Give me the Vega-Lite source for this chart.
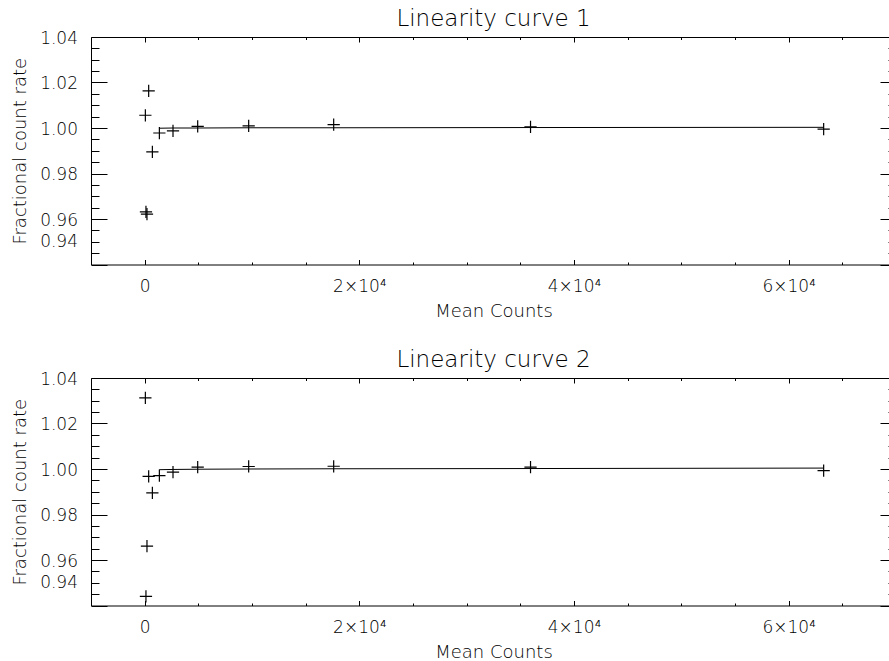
{
  "$schema": "https://vega.github.io/schema/vega-lite/v6.json",
  "padding": {"left": 11, "top": 7, "right": 0, "bottom": 0},
  "background": "white",
  "spacing": 27,
  "config": {
    "view": {"stroke": "black", "strokeWidth": 1},
    "font": "DejaVu Sans",
    "axis": {
      "labelFont": "DejaVu Sans", "labelFontSize": 17, "labelColor": "black", "labelFontWeight": 200,
      "titleFont": "DejaVu Sans", "titleFontSize": 18, "titleColor": "black", "titleFontWeight": 200,
      "tickColor": "black", "tickWidth": 1, "domain": false, "grid": false,
      "labelOverlap": false, "labelFlush": false, "labelBound": false
    },
    "title": {"font": "DejaVu Sans", "fontSize": 23, "fontWeight": 200, "color": "black", "baseline": "alphabetic", "offset": -2}
  },
  "datasets": {
    "pts1": [
      {"counts": 65, "rate": 1.0056}, {"counts": 373, "rate": 1.0163}, {"counts": 718, "rate": 0.9895},
      {"counts": 120, "rate": 0.9631}, {"counts": 215, "rate": 0.9621}, {"counts": 1370, "rate": 0.9978},
      {"counts": 2640, "rate": 0.9987}, {"counts": 4940, "rate": 1.0007}, {"counts": 9690, "rate": 1.0009},
      {"counts": 17610, "rate": 1.0015}, {"counts": 35950, "rate": 1.0005}, {"counts": 63260, "rate": 0.9995}
    ],
    "fit1": [
      {"counts": 1370, "rate": 0.9999}, {"counts": 2640, "rate": 1.0}, {"counts": 4940, "rate": 1.0},
      {"counts": 9690, "rate": 1.0001}, {"counts": 17610, "rate": 1.0001}, {"counts": 35950, "rate": 1.0002},
      {"counts": 63260, "rate": 1.0003}
    ],
    "pts2": [
      {"counts": 65, "rate": 1.0313}, {"counts": 373, "rate": 0.9968}, {"counts": 718, "rate": 0.9895},
      {"counts": 215, "rate": 0.9661}, {"counts": 120, "rate": 0.944}, {"counts": 1370, "rate": 0.9971},
      {"counts": 2640, "rate": 0.9986}, {"counts": 4940, "rate": 1.0008}, {"counts": 9690, "rate": 1.0011},
      {"counts": 17610, "rate": 1.0012}, {"counts": 35950, "rate": 1.0008}, {"counts": 63260, "rate": 0.9993}
    ],
    "fit2": [
      {"counts": 1370, "rate": 0.9997}, {"counts": 2640, "rate": 0.9998}, {"counts": 4940, "rate": 0.9999},
      {"counts": 9690, "rate": 1.0}, {"counts": 17610, "rate": 1.0001}, {"counts": 35950, "rate": 1.0002},
      {"counts": 63260, "rate": 1.0004}
    ]
  },
  "vconcat": [
    {
      "title": {"text": "Linearity curve 1"},
      "width": 805, "height": 227.5,
      "resolve": {"axis": {"x": "independent", "y": "independent"}},
      "layer": [
        {
          "data": {"name": "pts1"},
          "mark": {"type": "point", "shape": "M-1,0L1,0M0,-1L0,1", "size": 150, "filled": false, "stroke": "black", "strokeWidth": 1.2, "opacity": 1},
          "encoding": {
            "x": {"field": "counts", "type": "quantitative", "scale": {"domain": [-5000, 70000], "nice": false, "zero": false},
              "axis": {"orient": "bottom", "title": "Mean Counts", "titlePadding": 5.5,
                "values": [0, 5000, 10000, 15000, 20000, 25000, 30000, 35000, 40000, 45000, 50000, 55000, 60000, 65000],
                "labelExpr": "datum.value === 0 ? '0' : (datum.value % 20000 === 0 ? (datum.value / 10000) + '×10⁴' : '')",
                "tickSize": {"condition": {"test": "datum.value % 20000 === 0", "value": -5}, "value": -2.5},
                "labelPadding": 18.5}},
            "y": {"field": "rate", "type": "quantitative", "scale": {"domain": [0.94, 1.04], "nice": false, "zero": false},
              "axis": {"orient": "left", "title": "Fractional count rate", "titlePadding": 10,
                "values": [0.94, 0.945, 0.95, 0.955, 0.96, 0.965, 0.97, 0.975, 0.98, 0.985, 0.99, 0.995, 1.0, 1.005, 1.01, 1.015, 1.02, 1.025, 1.03, 1.035, 1.04],
                "labelExpr": "round(datum.value * 1000) % 20 === 0 ? format(datum.value, '.2f') : ''",
                "tickSize": {"condition": {"test": "round(datum.value * 1000) % 20 === 0", "value": -16}, "value": -8},
                "labelOffset": {"condition": {"test": "datum.value < 0.945", "value": -23}, "value": 1},
                "labelPadding": 29.5}}
          }
        },
        {
          "data": {"name": "fit1"},
          "mark": {"type": "line", "color": "black", "strokeWidth": 1},
          "encoding": {
            "x": {"field": "counts", "type": "quantitative", "scale": {"domain": [-5000, 70000], "nice": false, "zero": false},
              "axis": {"orient": "top", "title": null, "labels": false,
                "values": [0, 5000, 10000, 15000, 20000, 25000, 30000, 35000, 40000, 45000, 50000, 55000, 60000, 65000],
                "tickSize": {"condition": {"test": "datum.value % 20000 === 0", "value": -5}, "value": -2.5}}},
            "y": {"field": "rate", "type": "quantitative", "scale": {"domain": [0.94, 1.04], "nice": false, "zero": false},
              "axis": {"orient": "right", "title": null, "labels": false,
                "values": [0.94, 0.945, 0.95, 0.955, 0.96, 0.965, 0.97, 0.975, 0.98, 0.985, 0.99, 0.995, 1.0, 1.005, 1.01, 1.015, 1.02, 1.025, 1.03, 1.035, 1.04],
                "tickSize": {"condition": {"test": "round(datum.value * 1000) % 20 === 0", "value": -16}, "value": -8}}}
          }
        }
      ]
    },
    {
      "title": {"text": "Linearity curve 2"},
      "width": 805, "height": 227.5,
      "resolve": {"axis": {"x": "independent", "y": "independent"}},
      "layer": [
        {
          "data": {"name": "pts2"},
          "mark": {"type": "point", "shape": "M-1,0L1,0M0,-1L0,1", "size": 150, "filled": false, "stroke": "black", "strokeWidth": 1.2, "opacity": 1},
          "encoding": {
            "x": {"field": "counts", "type": "quantitative", "scale": {"domain": [-5000, 70000], "nice": false, "zero": false},
              "axis": {"orient": "bottom", "title": "Mean Counts", "titlePadding": 5.5,
                "values": [0, 5000, 10000, 15000, 20000, 25000, 30000, 35000, 40000, 45000, 50000, 55000, 60000, 65000],
                "labelExpr": "datum.value === 0 ? '0' : (datum.value % 20000 === 0 ? (datum.value / 10000) + '×10⁴' : '')",
                "tickSize": {"condition": {"test": "datum.value % 20000 === 0", "value": -5}, "value": -2.5},
                "labelPadding": 18.5}},
            "y": {"field": "rate", "type": "quantitative", "scale": {"domain": [0.94, 1.04], "nice": false, "zero": false},
              "axis": {"orient": "left", "title": "Fractional count rate", "titlePadding": 10,
                "values": [0.94, 0.945, 0.95, 0.955, 0.96, 0.965, 0.97, 0.975, 0.98, 0.985, 0.99, 0.995, 1.0, 1.005, 1.01, 1.015, 1.02, 1.025, 1.03, 1.035, 1.04],
                "labelExpr": "round(datum.value * 1000) % 20 === 0 ? format(datum.value, '.2f') : ''",
                "tickSize": {"condition": {"test": "round(datum.value * 1000) % 20 === 0", "value": -16}, "value": -8},
                "labelOffset": {"condition": {"test": "datum.value < 0.945", "value": -23}, "value": 1},
                "labelPadding": 29.5}}
          }
        },
        {
          "data": {"name": "fit2"},
          "mark": {"type": "line", "color": "black", "strokeWidth": 1},
          "encoding": {
            "x": {"field": "counts", "type": "quantitative", "scale": {"domain": [-5000, 70000], "nice": false, "zero": false},
              "axis": {"orient": "top", "title": null, "labels": false,
                "values": [0, 5000, 10000, 15000, 20000, 25000, 30000, 35000, 40000, 45000, 50000, 55000, 60000, 65000],
                "tickSize": {"condition": {"test": "datum.value % 20000 === 0", "value": -5}, "value": -2.5}}},
            "y": {"field": "rate", "type": "quantitative", "scale": {"domain": [0.94, 1.04], "nice": false, "zero": false},
              "axis": {"orient": "right", "title": null, "labels": false,
                "values": [0.94, 0.945, 0.95, 0.955, 0.96, 0.965, 0.97, 0.975, 0.98, 0.985, 0.99, 0.995, 1.0, 1.005, 1.01, 1.015, 1.02, 1.025, 1.03, 1.035, 1.04],
                "tickSize": {"condition": {"test": "round(datum.value * 1000) % 20 === 0", "value": -16}, "value": -8}}}
          }
        }
      ]
    }
  ]
}
